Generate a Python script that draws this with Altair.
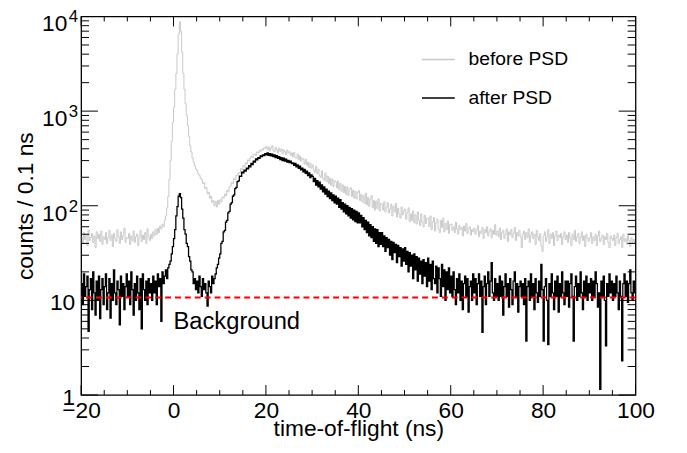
import altair as alt
import pandas as pd

# ---------------- data ----------------
BIN_START = -20.0   # ns, left edge of first bin
BIN_WIDTH = 0.25    # ns

# counts / 0.1 ns, "before PSD"  (24 rows x 20 bins = 5 ns per row, -20 ... 100 ns)
BEFORE = [
    47, 40, 52, 44, 49, 38, 55, 43, 46, 51, 41, 48, 36, 53, 45, 50, 42, 54, 39, 47,
    44, 52, 40, 46, 55, 43, 49, 37, 51, 45, 42, 56, 47, 40, 53, 44, 48, 58, 41, 46,
    45, 51, 39, 48, 43, 54, 41, 47, 50, 38, 46, 55, 42, 49, 44, 52, 40, 57, 47, 43,
    50, 45, 53, 48, 56, 50, 58, 52, 61, 57, 64, 60, 70, 78, 95, 125, 190, 300, 480, 760,
    1100, 1700, 2500, 4000, 6500, 8800, 7000, 4200, 2500, 1700, 1200, 900, 700, 540, 430, 370, 320, 290, 265, 245,
    236, 218, 210, 196, 190, 172, 176, 152, 156, 134, 139, 120, 126, 108, 114, 100, 111, 97, 114, 104,
    116, 110, 124, 121, 133, 128, 145, 140, 158, 163, 176, 172, 195, 188, 208, 212, 224, 220, 247, 240,
    265, 258, 284, 277, 305, 298, 318, 332, 322, 345, 352, 340, 370, 362, 384, 376, 396, 388, 412, 402,
    425, 392, 418, 380, 402, 430, 386, 372, 415, 388, 362, 405, 376, 398, 355, 390, 372, 348, 388, 360,
    372, 340, 362, 330, 366, 322, 318, 352, 305, 336, 296, 320, 308, 276, 312, 268, 290, 255, 282, 250,
    270, 238, 226, 262, 218, 244, 208, 200, 234, 196, 186, 222, 180, 206, 172, 196, 165, 192, 160, 184,
    178, 154, 182, 148, 172, 142, 166, 138, 160, 132, 158, 128, 150, 155, 126, 146, 120, 142, 118, 138,
    144, 114, 132, 110, 128, 105, 136, 102, 122, 98, 118, 128, 95, 114, 90, 112, 94, 118, 88, 106,
    104, 90, 110, 86, 96, 108, 84, 92, 104, 78, 99, 86, 106, 76, 94, 82, 74, 97, 80, 88,
    92, 72, 84, 95, 68, 82, 70, 88, 66, 80, 64, 86, 70, 62, 82, 67, 60, 79, 65, 74,
    74, 60, 78, 56, 68, 75, 54, 66, 72, 57, 52, 70, 59, 74, 53, 65, 56, 69, 51, 63,
    64, 55, 60, 52, 67, 57, 50, 62, 56, 59, 48, 61, 54, 65, 51, 57, 60, 49, 56, 53,
    58, 50, 55, 62, 47, 54, 51, 59, 45, 56, 52, 60, 48, 53, 57, 46, 55, 50, 63, 49,
    54, 47, 58, 44, 52, 55, 45, 50, 57, 42, 53, 49, 56, 46, 51, 59, 43, 52, 48, 55,
    47, 36, 50, 54, 44, 52, 46, 57, 41, 49, 53, 45, 50, 39, 55, 47, 43, 51, 38, 33,
    48, 53, 42, 47, 56, 40, 50, 45, 52, 38, 48, 54, 43, 49, 46, 51, 39, 47, 53, 44,
    49, 41, 52, 46, 38, 50, 44, 55, 42, 47, 51, 40, 46, 53, 43, 48, 37, 50, 45, 42,
    46, 52, 40, 47, 43, 50, 38, 48, 54, 42, 45, 49, 39, 47, 44, 51, 41, 36, 48, 45,
    43, 49, 38, 46, 51, 40, 44, 47, 36, 50, 42, 45, 39, 48, 43, 37, 46, 41, 44, 40,
]

# counts / 0.1 ns, "after PSD"
AFTER = [
    15, 9, 19, 11, 14, 18, 4.7, 13, 17, 8, 20, 12, 7, 16, 10, 18, 6.4, 13, 17, 9,
    14, 19, 8, 12, 17, 6.5, 15, 10, 21, 12, 9, 16, 13, 5.5, 18, 11, 15, 8, 14, 19,
    11, 16, 9, 20, 13, 7, 15, 10, 18, 12, 8, 17, 5, 19, 13, 10, 16, 9, 17, 12,
    15, 10, 18, 12, 16, 9, 19, 14, 17, 6, 20, 15, 18, 21, 17, 22, 24, 26, 31, 37,
    45, 56, 78, 98, 126, 134, 122, 92, 74, 56, 50, 40, 37, 29, 26, 21, 20, 15, 17, 13,
    16, 12, 18, 14, 11, 17, 13, 15, 12, 8.7, 16, 14, 12, 18, 15, 17, 19, 22, 24, 28,
    31, 40, 42, 53, 55, 67, 70, 84, 87, 104, 108, 126, 130, 152, 156, 180, 183, 206, 205, 226,
    222, 238, 232, 250, 246, 265, 258, 280, 272, 296, 290, 312, 305, 322, 316, 336, 330, 345, 338, 356,
    346, 362, 340, 355, 336, 350, 330, 344, 322, 338, 316, 330, 308, 322, 300, 318, 296, 310, 290, 302,
    286, 296, 278, 284, 268, 280, 258, 270, 248, 262, 240, 250, 228, 242, 220, 232, 208, 222, 198, 212,
    204, 180, 194, 165, 184, 158, 178, 150, 166, 140, 158, 133, 150, 125, 143, 119, 137, 113, 130, 107,
    126, 104, 120, 96, 116, 92, 108, 86, 104, 82, 100, 78, 96, 74, 93, 71, 90, 68, 87, 66,
    84, 66, 79, 60, 75, 56, 70, 52, 67, 48, 63, 46, 60, 42, 57, 40, 56, 37, 52, 39,
    52, 37, 48, 33, 46, 36, 44, 30, 42, 27, 41, 32, 39, 25, 38, 29, 36, 23, 35, 26,
    36, 24, 33, 20, 32, 23, 30, 17, 31, 21, 29, 16, 28, 19, 26, 15, 27, 18, 25, 14,
    28, 16, 24, 13, 26, 17, 15, 23, 12, 22, 17, 11, 24, 14, 21, 10, 20, 13, 22, 12,
    18, 11, 20, 13, 9, 17, 12, 19, 10, 16, 8, 15, 18, 11, 17, 7.5, 14, 16, 10, 19,
    12, 17, 9, 15, 19, 11, 16, 4.6, 14, 18, 9, 15, 20, 11, 16, 25, 12, 10, 17, 11,
    15, 10, 18, 11, 16, 7, 14, 19, 11, 15, 8.5, 17, 13, 9, 16, 20, 11, 15, 7.5, 14,
    16, 11, 15, 9, 17, 3.7, 14, 16, 10, 19, 11, 15, 8, 17, 12, 9.5, 16, 11, 24, 13,
    3.7, 14, 17, 10, 3.4, 15, 11, 19, 12, 8, 16, 11, 18, 7.5, 15, 11, 20, 12, 9, 16,
    11, 16, 8.5, 15, 19, 11, 3.7, 14, 18, 10, 15, 11, 20, 12, 8, 16, 11, 18, 10, 15,
    12, 17, 10, 16, 11, 20, 15, 8.5, 12, 1.15, 16, 11, 18, 10, 3.3, 15, 11, 19, 12, 16,
    10, 15, 11, 18, 12, 8, 16, 11, 2.3, 15, 19, 11, 16, 9.5, 15, 21, 12, 10, 16, 12,
]

SERIES = ["before PSD", "after PSD"]
COLORS = ["#c8c8c8", "#000000"]
BACKGROUND_LEVEL = [10.7]
BACKGROUND_LABEL = ["Background"]
BACKGROUND_LABEL_POS = [(0.0, 5.0)]

X_MAJOR = [-20, 0, 20, 40, 60, 80, 100]
X_MINOR = [-15, -10, -5, 5, 10, 15, 25, 30, 35, 45, 50, 55, 65, 70, 75, 85, 90, 95]
Y_MAJOR = [1, 10, 100, 1000, 10000]
Y_PLAIN_VALUES = [1, 10]
Y_PLAIN_LABELS = ["1", "10"]
Y_POW_VALUES = [100, 1000, 10000]
Y_POW_BASE = ["10", "10", "10"]
Y_POW_EXP = ["2", "3", "4"]
Y_MINOR = [2, 3, 4, 5, 6, 7, 8, 9, 20, 30, 40, 50, 60, 70, 80, 90,
           200, 300, 400, 500, 600, 700, 800, 900, 2000, 3000, 4000, 5000, 6000, 7000, 8000, 9000]

# ---------------- chart ----------------
W, H = 561, 383
FONT = "Liberation Sans"

centers = [BIN_START + BIN_WIDTH * (i + 0.5) for i in range(len(BEFORE))]
df_before = pd.DataFrame({"t": centers, "c": BEFORE, "s": SERIES[0]})
df_after = pd.DataFrame({"t": centers, "c": AFTER, "s": SERIES[1]})

xscale = alt.Scale(domain=[-20, 100], nice=False, zero=False)
yscale = alt.Scale(type="log", domain=[1, 10000], nice=False)

xaxis = alt.Axis(values=X_MAJOR, grid=False, ticks=False, tickSize=0, domain=False,
                 labelFontSize=23, labelFont=FONT, labelColor="black", labelPadding=5,
                 labelFlush=False, labelOverlap=False,
                 title="time-of-flight (ns)", titleFontSize=23, titleFont=FONT,
                 titleFontWeight="normal", titleColor="black",
                 titleBaseline="alphabetic", titleY=41, titleX=W / 2)
yaxis = alt.Axis(values=Y_MAJOR, grid=False, ticks=False, tickSize=0, domain=False,
                 labels=False,
                 title="counts / 0.1 ns", titleFontSize=23, titleFont=FONT,
                 titleFontWeight="normal", titleColor="black",
                 titleBaseline="alphabetic", titleAngle=270, titleX=-49, titleY=H / 2)


def X(field):
    return alt.X(field, type="quantitative", scale=xscale, axis=xaxis)


def Y(field):
    return alt.Y(field, type="quantitative", scale=yscale, axis=yaxis)


color = alt.Color("s:N", scale=alt.Scale(domain=SERIES, range=COLORS),
                  legend=alt.Legend(orient="none", legendX=344, legendY=26, title=None,
                                    symbolType="stroke", symbolSize=1100, symbolStrokeWidth=1.6,
                                    labelFontSize=19.5, labelFont=FONT, labelColor="black",
                                    labelOffset=13, rowPadding=12, padding=0))

before_line = alt.Chart(df_before).mark_line(interpolate="step", strokeWidth=1, clip=True).encode(
    x=X("t"), y=Y("c"), color=color)
after_line = alt.Chart(df_after).mark_line(interpolate="step", strokeWidth=1.3, clip=True).encode(
    x=X("t"), y=Y("c"), color=color)

bg = alt.Chart(pd.DataFrame({"v": BACKGROUND_LEVEL})).mark_rule(
    color="#ff0000", strokeWidth=2, strokeDash=[6, 4]).encode(y=Y("v"))

bg_text = alt.Chart(pd.DataFrame({"x": [p[0] for p in BACKGROUND_LABEL_POS],
                                  "y": [p[1] for p in BACKGROUND_LABEL_POS],
                                  "txt": BACKGROUND_LABEL})).mark_text(
    align="left", baseline="alphabetic", fontSize=24, font=FONT, color="black").encode(
    x=X("x"), y=Y("y"), text="txt:N")

# y tick labels (ROOT-style powers of ten)
ylab_plain = alt.Chart(pd.DataFrame({"v": Y_PLAIN_VALUES, "txt": Y_PLAIN_LABELS})).mark_text(
    align="right", baseline="middle", fontSize=23, font=FONT, color="black", dy=3).encode(
    y=Y("v"), x=alt.value(-6), text="txt:N")
ylab_base = alt.Chart(pd.DataFrame({"v": Y_POW_VALUES, "txt": Y_POW_BASE})).mark_text(
    align="right", baseline="middle", fontSize=23, font=FONT, color="black", dy=8).encode(
    y=Y("v"), x=alt.value(-14), text="txt:N")
ylab_exp = alt.Chart(pd.DataFrame({"v": Y_POW_VALUES, "txt": Y_POW_EXP})).mark_text(
    align="right", baseline="middle", fontSize=17, font=FONT, color="black", dy=1).encode(
    y=Y("v"), x=alt.value(-3), text="txt:N")

dfxM = pd.DataFrame({"v": X_MAJOR})
dfxm = pd.DataFrame({"v": X_MINOR})
dfyM = pd.DataFrame({"v": Y_MAJOR})
dfym = pd.DataFrame({"v": Y_MINOR})

tick_layers = []
for d, ln in ((dfxM, 10), (dfxm, 5)):
    tick_layers.append(alt.Chart(d).mark_rule(color="black", strokeWidth=1).encode(
        x=X("v"), y=alt.value(H), y2=alt.value(H - ln)))
    tick_layers.append(alt.Chart(d).mark_rule(color="black", strokeWidth=1).encode(
        x=X("v"), y=alt.value(0), y2=alt.value(ln)))
for d, ln in ((dfyM, 17), (dfym, 8)):
    tick_layers.append(alt.Chart(d).mark_rule(color="black", strokeWidth=1).encode(
        y=Y("v"), x=alt.value(0), x2=alt.value(ln)))
    tick_layers.append(alt.Chart(d).mark_rule(color="black", strokeWidth=1).encode(
        y=Y("v"), x=alt.value(W), x2=alt.value(W - ln)))

chart = alt.layer(before_line, after_line, bg, bg_text, ylab_plain, ylab_base, ylab_exp,
                  *tick_layers).properties(
    width=W, height=H,
    autosize=alt.AutoSizeParams(type="none"),
    padding={"left": 74, "top": 6, "right": 44, "bottom": 48},
    background="white",
).configure_view(stroke="black", strokeWidth=1.3)

chart.save("out.html", embed_options={"renderer": "svg", "actions": False})
